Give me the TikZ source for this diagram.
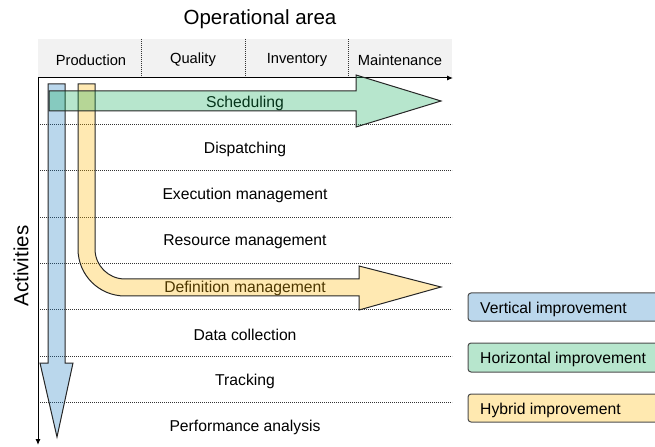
\documentclass[tikz,border=0pt]{standalone}
\usepackage{fontspec}
\setmainfont{Liberation Sans}
\usetikzlibrary{arrows.meta}
\definecolor{hdr}{RGB}{242,242,242}
\definecolor{bluec}{RGB}{28,122,192}
\definecolor{greenc}{RGB}{15,172,88}
\definecolor{yellowc}{RGB}{255,182,0}
\definecolor{bluel}{RGB}{187,215,236}
\definecolor{greenl}{RGB}{183,230,205}
\definecolor{yellowl}{RGB}{255,233,176}
\begin{document}
\begin{tikzpicture}[x=1bp,y=-1bp,
  rowlab/.style={font=\fontsize{15.7bp}{18bp}\selectfont, inner sep=0pt, anchor=center},
  hdrlab/.style={font=\fontsize{14.7bp}{17bp}\selectfont, inner sep=0pt, anchor=center},
  biglab/.style={font=\fontsize{20.5bp}{24bp}\selectfont, inner sep=0pt, anchor=center},
  dotline/.style={line width=0.8bp, dash pattern=on 1bp off 1bp, black!80},
  axisline/.style={line width=1bp, -{Latex[length=6bp,width=5bp]}},
  bigarrow/.style={draw=black!85, line width=1bp, fill opacity=0.3, line join=miter},
  legbox/.style={draw=black!70, line width=1bp, rounded corners=3bp}
]
\useasboundingbox (0,0) rectangle (655,447);
% header band
\fill[hdr] (38,39) rectangle (452,78);
\foreach \xx in {141,245,348} \draw[dotline] (\xx,39) -- (\xx,78);
\node[biglab] (title) at (260,19) {Operational area};
\node[hdrlab] (hprod) at (91,60) {Production};
\node[hdrlab] (hqual) at (193,60) {Quality};
\node[hdrlab] (hinv) at (297,60) {Inventory};
\node[hdrlab] (hmaint) at (400,60) {Maintenance};
% row lines
\foreach \yy in {124.5,170.8,217,263.3,309.6,355.9,402.2} \draw[dotline] (38,\yy) -- (452,\yy);
% axes
\coordinate (o) at (38,78);
\coordinate (xend) at (453,78);
\coordinate (yend) at (38,445);
\draw[axisline] (o) -- (xend);
\draw[axisline] (o) -- (yend);
\node[biglab, rotate=90] (act) at (21,266) {Activities};
% row labels
\node[rowlab] (r1) at (245,103) {Scheduling};
\node[rowlab] (r2) at (245,149.5) {Dispatching};
\node[rowlab] (r3) at (245,195.5) {Execution management};
\node[rowlab] (r4) at (245,242) {Resource management};
\node[rowlab] (r5) at (245,288.5) {Definition management};
\node[rowlab] (r6) at (245,334.5) {Data collection};
\node[rowlab] (r7) at (245,381) {Tracking};
\node[rowlab] (r8) at (245,427) {Performance analysis};
% blue vertical arrow
\draw[bigarrow, fill=bluec] (48,84) -- (65,84) -- (65,363) -- (73,363) -- (57,437) -- (40,363) -- (48,363) -- cycle;
% yellow hybrid arrow
\draw[bigarrow, fill=yellowc] (78,84) -- (95,84) -- (95,249)
  .. controls (95,265.6) and (108.4,279) .. (125,279)
  -- (359,279) -- (359,266) -- (441,287) -- (359,310) -- (359,296) -- (125,296)
  .. controls (99,296) and (78,275) .. (78,249) -- cycle;
% green horizontal arrow
\draw[bigarrow, fill=greenc] (49,91) -- (356,91) -- (356,75) -- (441,101) -- (356,127) -- (356,111) -- (49,111) -- cycle;
% legend
\begin{scope}
\clip (0,0) rectangle (655,447);
\draw[legbox, fill=bluel] (468,293) rectangle (670,321);
\draw[legbox, fill=greenl] (468,343) rectangle (670,372);
\draw[legbox, fill=yellowl] (468,394) rectangle (670,422);
\end{scope}
\node[rowlab, anchor=west] (lv) at (480,309) {Vertical improvement};
\node[rowlab, anchor=west] (lh) at (480,359.5) {Horizontal improvement};
\node[rowlab, anchor=west] (ly) at (480,410) {Hybrid improvement};
\end{tikzpicture}
\end{document}
